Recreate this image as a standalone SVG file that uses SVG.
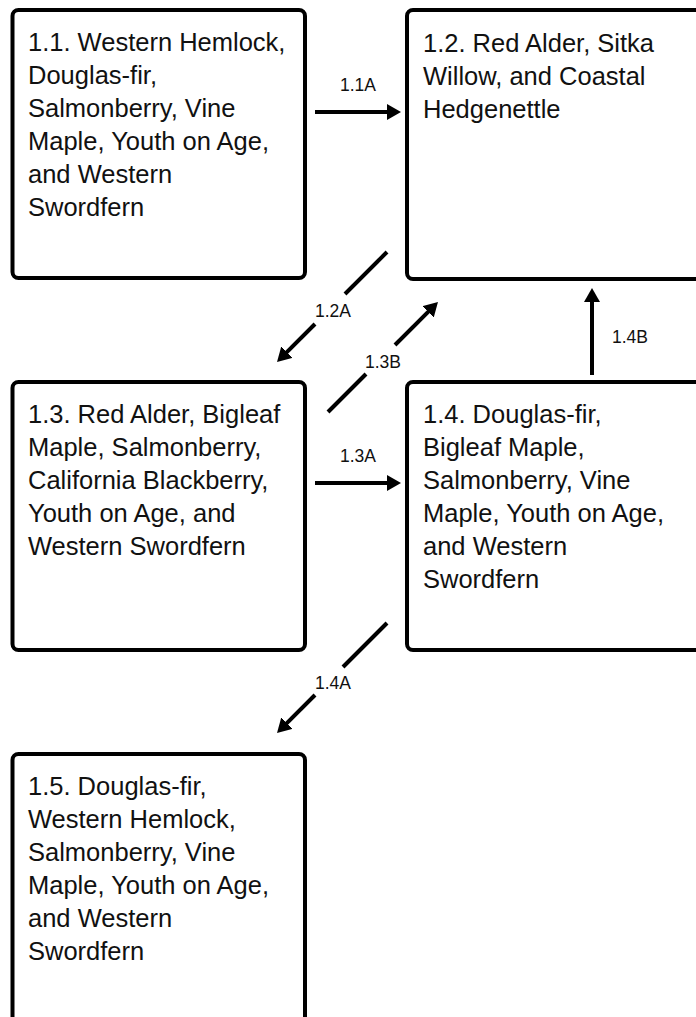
<svg xmlns="http://www.w3.org/2000/svg" width="696" height="1017" viewBox="0 0 696 1017">
<style>
  .box { fill: #ffffff; stroke: #000000; stroke-width: 4; }
  .txt { font-family: "Liberation Sans", Arial, sans-serif; font-size: 25.5px; fill: #111111; }
  .lbl { font-family: "Liberation Sans", Arial, sans-serif; font-size: 17.5px; fill: #111111; }
  .con { stroke: #000000; stroke-width: 4; fill: none; }
</style>
<defs>
  <marker id="ah" viewBox="0 0 14 16" refX="4" refY="8" markerWidth="14" markerHeight="16" markerUnits="userSpaceOnUse" orient="auto">
    <path d="M0,0 L14,8 L0,16 z" fill="#000000"/>
  </marker>
</defs>
<rect width="696" height="1017" fill="#ffffff"/>

<g id="n1-1">
  <rect class="box" x="12.5" y="10" width="292.5" height="268" rx="6"/>
  <text class="txt">
    <tspan x="28" y="51">1.1. Western Hemlock,</tspan>
    <tspan x="28" y="84">Douglas-fir,</tspan>
    <tspan x="28" y="117">Salmonberry, Vine</tspan>
    <tspan x="28" y="150">Maple, Youth on Age,</tspan>
    <tspan x="28" y="183">and Western</tspan>
    <tspan x="28" y="216">Swordfern</tspan>
  </text>
</g>
<g id="n1-2">
  <rect class="box" x="407" y="10" width="300" height="269" rx="6"/>
  <text class="txt">
    <tspan x="423" y="52">1.2. Red Alder, Sitka</tspan>
    <tspan x="423" y="85">Willow, and Coastal</tspan>
    <tspan x="423" y="118">Hedgenettle</tspan>
  </text>
</g>
<g id="n1-3">
  <rect class="box" x="12.5" y="382" width="292.5" height="268" rx="6"/>
  <text class="txt">
    <tspan x="28" y="423">1.3. Red Alder, Bigleaf</tspan>
    <tspan x="28" y="456">Maple, Salmonberry,</tspan>
    <tspan x="28" y="489">California Blackberry,</tspan>
    <tspan x="28" y="522">Youth on Age, and</tspan>
    <tspan x="28" y="555">Western Swordfern</tspan>
  </text>
</g>
<g id="n1-4">
  <rect class="box" x="407" y="382" width="300" height="268" rx="6"/>
  <text class="txt">
    <tspan x="423" y="423">1.4. Douglas-fir,</tspan>
    <tspan x="423" y="456">Bigleaf Maple,</tspan>
    <tspan x="423" y="489">Salmonberry, Vine</tspan>
    <tspan x="423" y="522">Maple, Youth on Age,</tspan>
    <tspan x="423" y="555">and Western</tspan>
    <tspan x="423" y="588">Swordfern</tspan>
  </text>
</g>
<g id="n1-5">
  <rect class="box" x="12.5" y="754" width="292.5" height="300" rx="6"/>
  <text class="txt">
    <tspan x="28" y="795">1.5. Douglas-fir,</tspan>
    <tspan x="28" y="828">Western Hemlock,</tspan>
    <tspan x="28" y="861">Salmonberry, Vine</tspan>
    <tspan x="28" y="894">Maple, Youth on Age,</tspan>
    <tspan x="28" y="927">and Western</tspan>
    <tspan x="28" y="960">Swordfern</tspan>
  </text>
</g>

<g id="connectors">
  <g id="e1-1A">
    <line class="con" x1="315" y1="112" x2="391" y2="112" marker-end="url(#ah)"/>
    <text class="lbl" x="358" y="91" text-anchor="middle">1.1A</text>
  </g>
  <g id="e1-2A">
    <line class="con" x1="387" y1="252" x2="345" y2="294"/>
    <line class="con" x1="315" y1="324" x2="284.1" y2="354.9" marker-end="url(#ah)"/>
    <text class="lbl" x="333" y="317" text-anchor="middle">1.2A</text>
  </g>
  <g id="e1-3B">
    <line class="con" x1="328" y1="412" x2="366" y2="374"/>
    <line class="con" x1="395" y1="345" x2="430.9" y2="309.1" marker-end="url(#ah)"/>
    <text class="lbl" x="383" y="368" text-anchor="middle">1.3B</text>
  </g>
  <g id="e1-3A">
    <line class="con" x1="315" y1="483" x2="391" y2="483" marker-end="url(#ah)"/>
    <text class="lbl" x="358" y="462" text-anchor="middle">1.3A</text>
  </g>
  <g id="e1-4B">
    <line class="con" x1="592" y1="375" x2="592" y2="298" marker-end="url(#ah)"/>
    <text class="lbl" x="612" y="343">1.4B</text>
  </g>
  <g id="e1-4A">
    <line class="con" x1="387" y1="623" x2="343" y2="667"/>
    <line class="con" x1="315" y1="695" x2="284.1" y2="725.9" marker-end="url(#ah)"/>
    <text class="lbl" x="333" y="689" text-anchor="middle">1.4A</text>
  </g>
</g>
</svg>
